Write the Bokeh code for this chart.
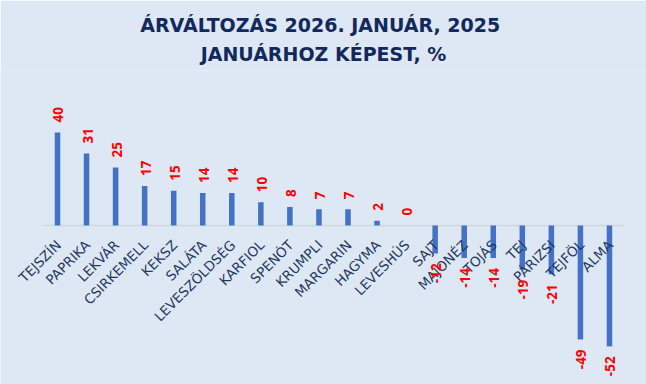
import math
from bokeh.plotting import figure
from bokeh.models import Range1d, Title, ColumnDataSource
from bokeh.core.properties import value
from bokeh.embed import file_html
from bokeh.resources import INLINE

categories = ["TEJSZÍN", "PAPRIKA", "LEKVÁR", "CSIRKEMELL", "KEKSZ", "SALÁTA",
              "LEVESZÖLDSÉG", "KARFIOL", "SPENÓT", "KRUMPLI", "MARGARIN", "HAGYMA",
              "LEVESHÚS", "SAJT", "MAJONÉZ", "TOJÁS", "TEJ", "PÁRIZSI", "TEJFÖL", "ALMA"]
changes = [40, 31, 25, 17, 15, 14, 14, 10, 8, 7, 7, 2, 0,
           -12, -14, -14, -19, -21, -49, -52]
title_line1 = "ÁRVÁLTOZÁS  2026. JANUÁR, 2025"
title_line2 = "JANUÁRHOZ KÉPEST, %"

BG = "#dde8f4"
idx = list(range(len(categories)))

p = figure(width=646, height=384, output_backend="svg", toolbar_location=None,
           x_range=Range1d(-1.962, 20.275), y_range=Range1d(-68.39, 66.67),
           min_border_left=0, min_border_right=0, min_border_bottom=0,
           min_border_top=70, background_fill_color=BG, border_fill_color=BG,
           outline_line_color=None)
p.title.visible = False
p.axis.visible = False
p.grid.visible = False

t2 = Title(text=title_line2, align="center", text_font="DejaVu Sans",
           text_font_size="19px", text_font_style="bold", text_color="#13295e",
           standoff=11)
t1 = Title(text=title_line1, align="center", text_font="DejaVu Sans",
           text_font_size="19px", text_font_style="bold", text_color="#13295e",
           standoff=0)
p.add_layout(t2, "above")
p.add_layout(t1, "above")

# zero line
p.segment(x0=[idx[0] - 0.5], x1=[idx[-1] + 0.5], y0=[0], y1=[0],
          line_color="#cfd6de", line_width=1.5)

src = ColumnDataSource(dict(x=idx, v=changes, cat=categories,
                            lab=[str(c) for c in changes]))
p.vbar(x="x", top="v", bottom=0, width=0.19, source=src,
       fill_color="#4472c4", line_color=None)

p.text(x="x", y=0, text="cat", source=src, angle=math.pi / 4,
       text_align="right", text_baseline="middle", x_offset=1, y_offset=17,
       text_font=value("DejaVu Sans"), text_font_size="13.5px",
       text_color="#1f3864")

pos = ColumnDataSource(dict(x=[i for i, c in zip(idx, changes) if c >= 0],
                            v=[c for c in changes if c >= 0],
                            lab=[str(c) for c in changes if c >= 0]))
neg = ColumnDataSource(dict(x=[i for i, c in zip(idx, changes) if c < 0],
                            v=[c for c in changes if c < 0],
                            lab=[str(c) for c in changes if c < 0]))
p.text(x="x", y="v", text="lab", source=pos, angle=math.pi / 2,
       text_align="left", text_baseline="middle", x_offset=1, y_offset=-10,
       text_font=value("Open Sans"), text_font_size="13.5px",
       text_font_style="bold", text_color="#ff0000")
p.text(x="x", y="v", text="lab", source=neg, angle=math.pi / 2,
       text_align="right", text_baseline="middle", x_offset=1, y_offset=10,
       text_font=value("Open Sans"), text_font_size="13.5px",
       text_font_style="bold", text_color="#ff0000")

open("out.html", "w").write(file_html(p, INLINE))
